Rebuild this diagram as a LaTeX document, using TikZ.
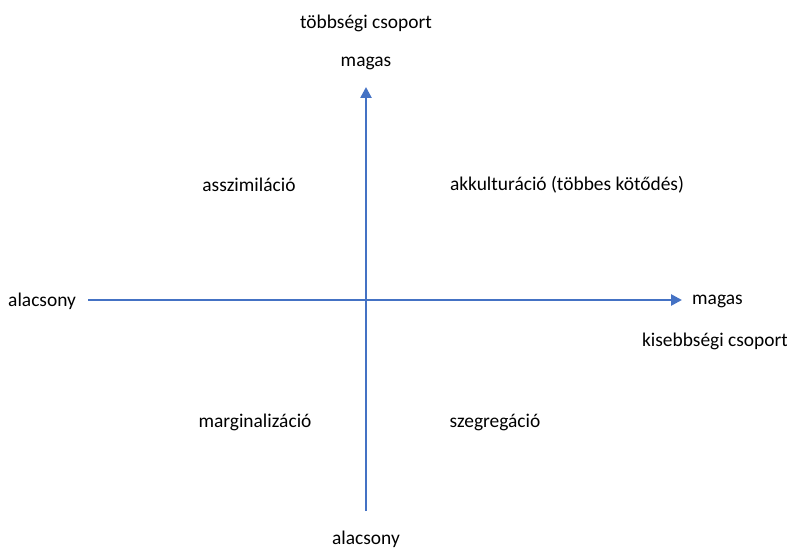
\documentclass[tikz,border=0pt]{standalone}
\usepackage{fontspec}
\setmainfont{Carlito}
\usetikzlibrary{arrows.meta}
\definecolor{axisblue}{HTML}{4472C4}
\begin{document}
\begin{tikzpicture}[x=1bp,y=-1bp,
  lbl/.style={font=\fontsize{19.5}{22}\selectfont, inner sep=0pt, text=black},
  axis/.style={draw=axisblue, line width=2.5bp, -{Triangle[length=11bp,width=11bp]}}]
\useasboundingbox (0,0) rectangle (787,549);
\coordinate (vb) at (366,511);
\coordinate (vt) at (366,87);
\coordinate (hl) at (88,300);
\coordinate (hr) at (682,300);
\draw[axis] (vb) -- (vt);
\draw[axis] (hl) -- (hr);
\node[lbl] (tcs) at (366,23) {többségi csoport};
\node[lbl] (tmag) at (366,63) {magas};
\node[lbl] (asz) at (249,185) {asszimiláció};
\node[lbl] (akk) at (567,185) {akkulturáció (többes kötődés)};
\node[lbl, anchor=west] (lalac) at (8,301) {alacsony};
\node[lbl, anchor=west] (rmag) at (692,301) {magas};
\node[lbl] (kcs) at (715,341) {kisebbségi csoport};
\node[lbl] (mar) at (255,422) {marginalizáció};
\node[lbl] (sze) at (495,422) {szegregáció};
\node[lbl] (balac) at (366,539) {alacsony};
\end{tikzpicture}
\end{document}
